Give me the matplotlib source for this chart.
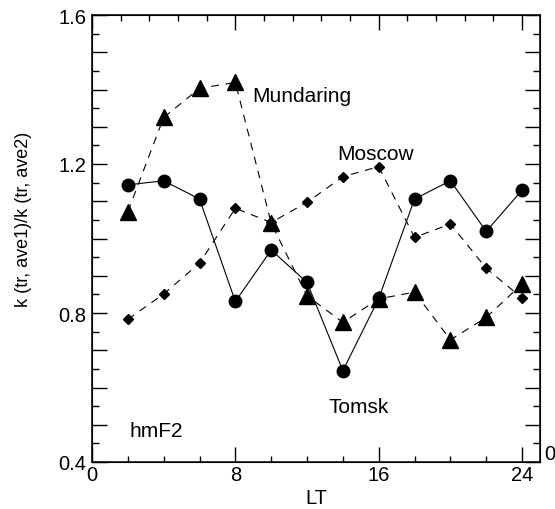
import numpy as np
import matplotlib
matplotlib.use("Agg")
import matplotlib.pyplot as plt
from matplotlib.ticker import MultipleLocator, FuncFormatter, FixedLocator

plt.rcParams['font.family'] = ['Liberation Sans', 'DejaVu Sans']

# -----------------------------
# data
# -----------------------------
lt = [2, 4, 6, 8, 10, 12, 14, 16, 18, 20, 22, 24]
tomsk = [1.144, 1.155, 1.106, 0.831, 0.969, 0.882, 0.645, 0.839, 1.106, 1.155, 1.019, 1.130]
mundaring = [1.072, 1.325, 1.403, 1.419, 1.041, 0.846, 0.775, 0.838, 0.856, 0.728, 0.788, 0.878]
moscow = [0.783, 0.851, 0.934, 1.081, 1.043, 1.097, 1.166, 1.193, 1.003, 1.039, 0.920, 0.840]

x_major = [0, 8, 16, 24]
y_labelled = [0.4, 0.8, 1.2, 1.6]

fig = plt.figure(figsize=(5.55, 5.10), dpi=100)
ax = fig.add_axes([92 / 555, 47 / 510, 448 / 555, 447 / 510])

# --- series ---
ax.plot(lt, moscow, color='black', lw=0.8, ls=(0, (7, 6)),
        marker='D', ms=5.5, zorder=2)
ax.plot(lt, mundaring, color='black', lw=0.8, ls=(0, (7, 6)),
        marker='^', ms=11.5, zorder=3)
ax.plot(lt, tomsk, color='black', lw=0.8, ls='-',
        marker='o', ms=9, zorder=4)

# --- axes ---
ax.set_xlim(0, 25)
ax.set_ylim(0.4, 1.6)
ax.xaxis.set_major_locator(FixedLocator(x_major))
ax.xaxis.set_minor_locator(MultipleLocator(2))
ax.yaxis.set_major_locator(MultipleLocator(0.1))
ax.yaxis.set_minor_locator(MultipleLocator(0.05))


def ylab(v, pos):
    for t in y_labelled:
        if abs(v - t) < 1e-6:
            return f"{t:.1f}"
    return ""


ax.yaxis.set_major_formatter(FuncFormatter(ylab))
ax.tick_params(axis='both', which='both', direction='in', width=1,
               labelsize=14.5, top=False, right=True)
ax.tick_params(axis='y', which='major', length=11, pad=4)
ax.tick_params(axis='y', which='minor', length=5)
ax.tick_params(axis='x', which='major', length=11, pad=2)
ax.tick_params(axis='x', which='minor', length=4)
for s in ax.spines.values():
    s.set_linewidth(1.1)

# top axis ticks have a different minor step
ax_top = ax.twiny()
ax_top.set_xlim(0, 25)
ax_top.xaxis.set_major_locator(FixedLocator(x_major))
ax_top.xaxis.set_minor_locator(MultipleLocator(1.6))
ax_top.tick_params(axis='x', which='both', direction='in', width=1,
                   labeltop=False)
ax_top.tick_params(axis='x', which='major', length=11)
ax_top.tick_params(axis='x', which='minor', length=4)

ax.set_xlabel("LT", fontsize=14.5, labelpad=3)
ax.set_ylabel("k (tr, ave1)/k (tr, ave2)", fontsize=13)
ax.yaxis.set_label_coords(-0.135, 0.544)

# --- annotations ---
ax.text(8.93, 1.370, "Mundaring", fontsize=15, va='baseline', ha='left')
ax.text(13.67, 1.213, "Moscow", fontsize=15, va='baseline', ha='left')
ax.text(13.17, 0.533, "Tomsk", fontsize=15, va='baseline', ha='left')
ax.text(2.12, 0.469, "hmF2", fontsize=15, va='baseline', ha='left')

# label of a neighbouring panel, cut by the image edge in the reference
fig.text(544 / 555, 1 - 455 / 510, "0", fontsize=14.5, va='center', ha='left')

fig.savefig("out.png", dpi=100)
